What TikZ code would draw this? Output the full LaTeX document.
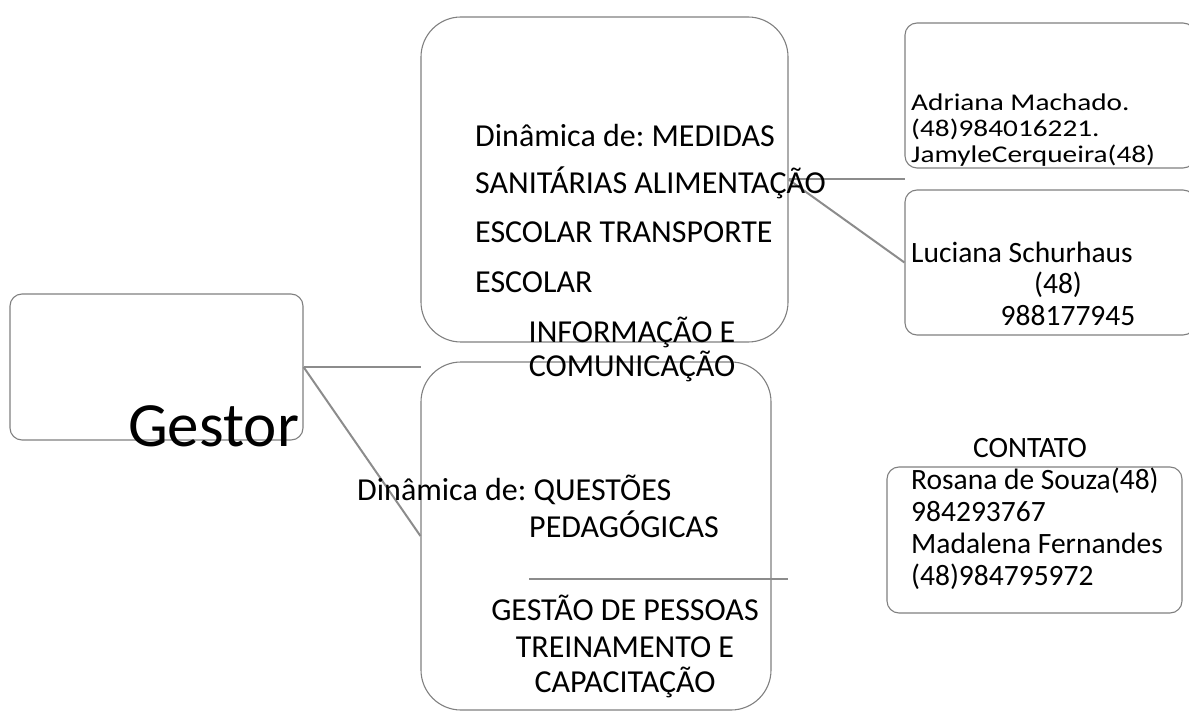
\documentclass[tikz,border=0pt]{standalone}
\usepackage{fontspec}
\setmainfont{Carlito}
\newfontfamily\widefont{Carlito}[FakeStretch=1.22]
\frenchspacing
\definecolor{boxgray}{gray}{0.5}
\definecolor{linegray}{gray}{0.55}
\begin{document}
\begin{tikzpicture}[x=1pt,y=-1pt,
  box/.style={draw=boxgray, line width=1.1pt, inner sep=0pt},
  conn/.style={draw=linegray, line width=2pt},
  txt/.style={inner sep=0pt},
  ts/.style={txt, font=\fontsize{32}{38}\selectfont},
  bs/.style={txt, font=\fontsize{32}{38}\selectfont},
  rs/.style={txt, font=\fontsize{29.5}{34}\selectfont},
  ws/.style={txt, font=\widefont\fontsize{24}{26}\selectfont}]
\useasboundingbox (0,0) rectangle (1189,711);
% boxes
\node[box, rounded corners=12pt, minimum width=293pt, minimum height=146pt] (gestor) at (156.5,367) {};
\node[box, rounded corners=40pt, minimum width=367pt, minimum height=325pt] (top) at (604.5,179.5) {};
\node[box, rounded corners=40pt, minimum width=350pt, minimum height=348pt] (bot) at (596,536) {};
\node[box, rounded corners=12pt, minimum width=290pt, minimum height=145pt] (adr) at (1050,95.5) {};
\node[box, rounded corners=12pt, minimum width=290pt, minimum height=145pt] (luc) at (1050,262.5) {};
\node[box, rounded corners=12pt, minimum width=295pt, minimum height=146pt] (con) at (1034.5,540) {};
% connectors
\coordinate (c1) at (421,367);
\coordinate (c2) at (905,179.5);
\coordinate (c3) at (529,579);
\coordinate (c4) at (788,579);
\draw[conn] (gestor.east) -- (c1);
\draw[conn] (gestor.east) -- (bot.west);
\draw[conn] (top.east) -- (c2);
\draw[conn] (top.east) -- (luc.west);
\draw[conn] (c3) -- (c4);
% texts
\node[txt, font=\fontsize{63}{70}\selectfont, anchor=base west] (tg) at (128,446) {Gestor};
\node[ts, anchor=base west] (t1) at (475,147) {Dinâmica de: MEDIDAS};
\node[ts, anchor=base west] (t2) at (475,194) {SANITÁRIAS ALIMENTAÇÃO};
\node[ts, anchor=base west] (t3) at (475,243) {ESCOLAR TRANSPORTE};
\node[ts, anchor=base west] (t4) at (475,293) {ESCOLAR};
\node[ts, anchor=base] (t5) at (632,342) {INFORMAÇÃO E};
\node[ts, anchor=base] (t6) at (632,377) {COMUNICAÇÃO};
\node[bs, anchor=base west] (b1) at (357,500) {Dinâmica de: QUESTÕES};
\node[bs, anchor=base] (b2) at (624,537) {PEDAGÓGICAS};
\node[bs, anchor=base] (b3) at (625,620) {GESTÃO DE PESSOAS};
\node[bs, anchor=base] (b4) at (625,657) {TREINAMENTO E};
\node[bs, anchor=base] (b5) at (625,692) {CAPACITAÇÃO};
\node[ws, anchor=base west] (a1) at (911,111) {Adriana Machado.};
\node[ws, anchor=base west] (a2) at (911,137) {(48)984016221.};
\node[ws, anchor=base west] (a3) at (911,163) {JamyleCerqueira(48)};
\node[rs, anchor=base west] (l1) at (911,263) {Luciana Schurhaus};
\node[rs, anchor=base] (l2) at (1058,294) {(48)};
\node[rs, anchor=base] (l3) at (1068,326) {988177945};
\node[rs, anchor=base] (k0) at (1030,457) {CONTATO};
\node[rs, anchor=base west] (k1) at (911,489) {Rosana de Souza(48)};
\node[rs, anchor=base west] (k2) at (911,521) {984293767};
\node[rs, anchor=base west] (k3) at (911,553) {Madalena Fernandes};
\node[rs, anchor=base west] (k4) at (911,585) {(48)984795972};
\end{tikzpicture}
\end{document}
